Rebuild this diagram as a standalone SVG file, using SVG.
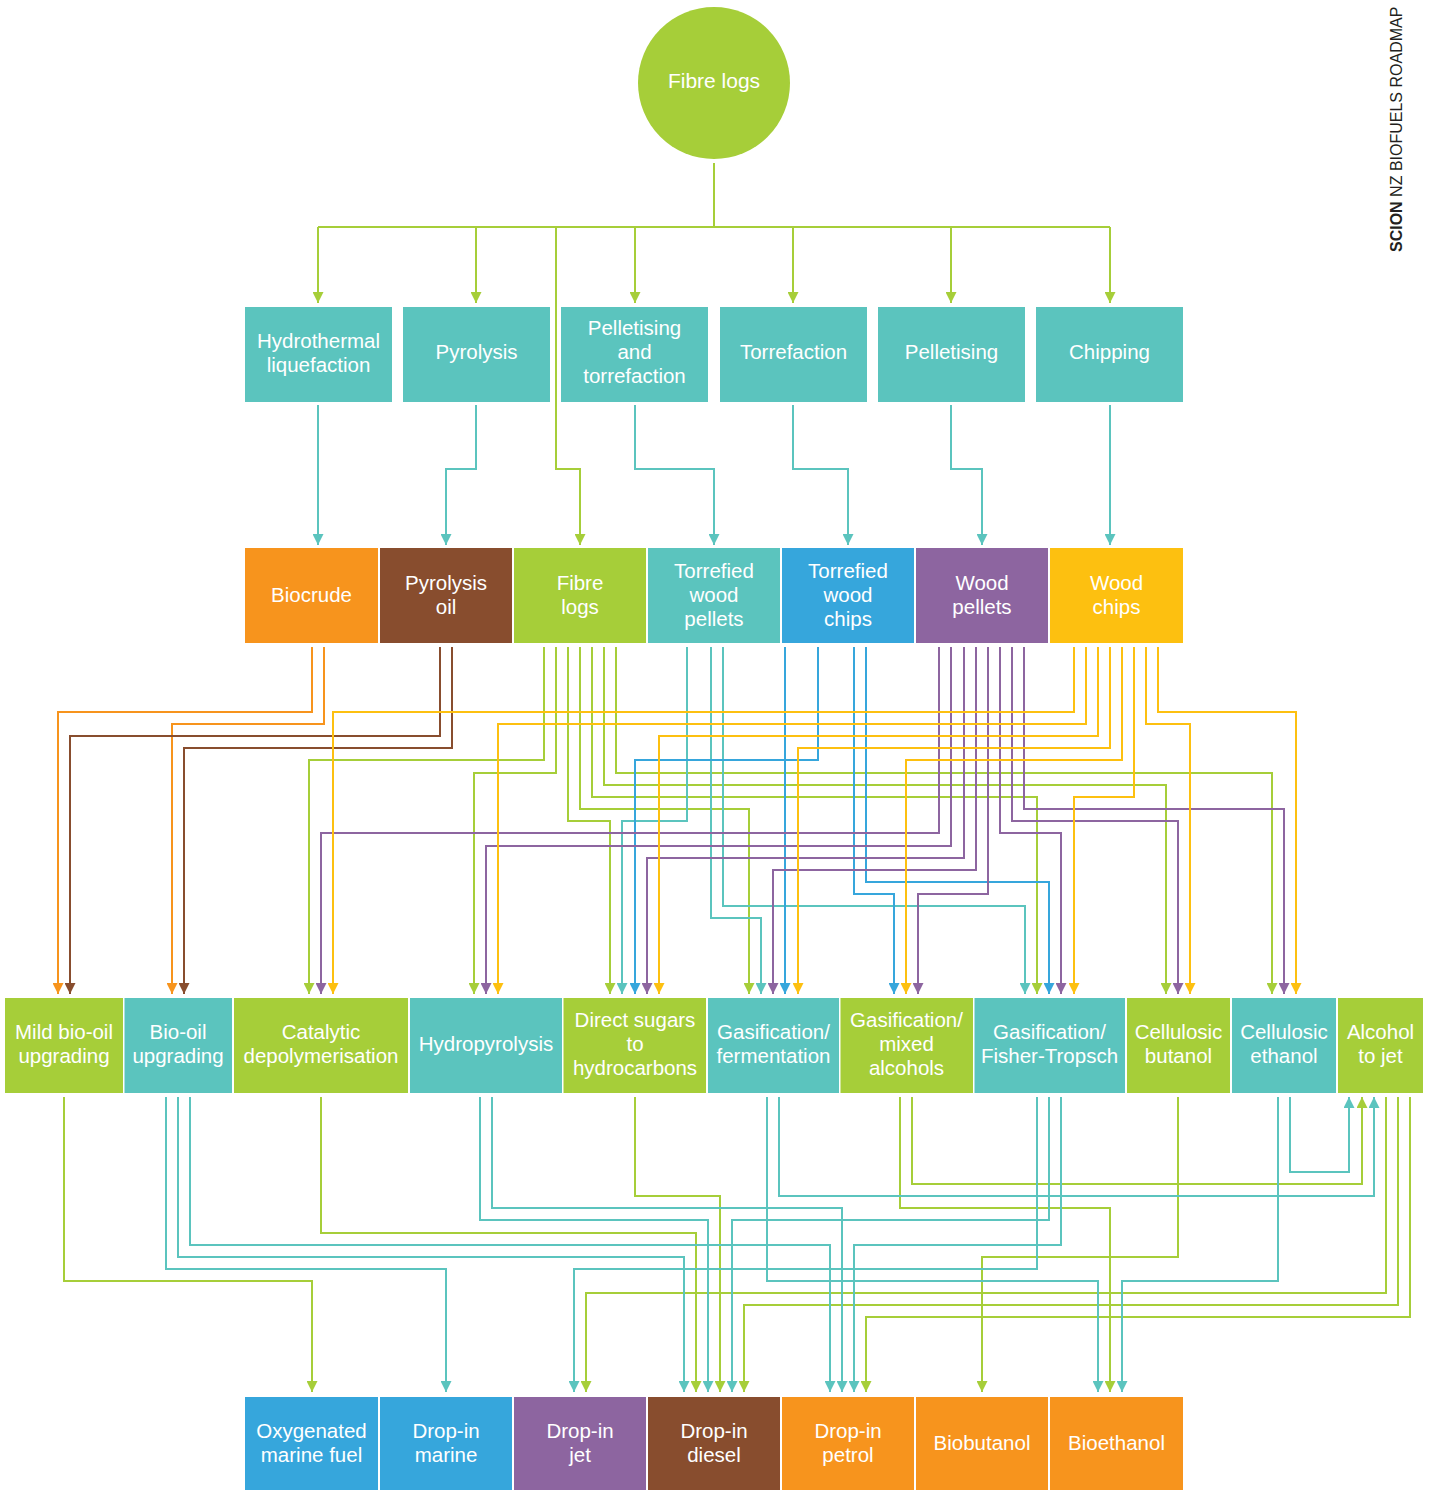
<svg xmlns="http://www.w3.org/2000/svg" width="1433" height="1490" viewBox="0 0 1433 1490">
<style>
.c{fill:none;stroke-width:2;stroke-linejoin:miter}
.g{stroke:#a6ce39}.tl{stroke:#5bc4be}.o{stroke:#f7941d}.br{stroke:#884d2e}.b{stroke:#36a6dc}.p{stroke:#8d65a0}.y{stroke:#fdc010}
.t{font-family:"Liberation Sans",Arial,Helvetica,sans-serif;font-size:20.5px;fill:#ffffff;text-anchor:middle}
.fG{fill:#a6ce39}.fT{fill:#5bc4be}.fO{fill:#f7941d}.fBr{fill:#884d2e}.fB{fill:#36a6dc}.fP{fill:#8d65a0}.fY{fill:#fdc010}
</style>
<defs>
<marker id="aG" markerUnits="userSpaceOnUse" markerWidth="11" markerHeight="11" refX="11" refY="5.5" orient="auto"><path d="M0,0 L11,5.5 L0,11 z" fill="#a6ce39"/></marker>
<marker id="aT" markerUnits="userSpaceOnUse" markerWidth="11" markerHeight="11" refX="11" refY="5.5" orient="auto"><path d="M0,0 L11,5.5 L0,11 z" fill="#5bc4be"/></marker>
<marker id="aO" markerUnits="userSpaceOnUse" markerWidth="11" markerHeight="11" refX="11" refY="5.5" orient="auto"><path d="M0,0 L11,5.5 L0,11 z" fill="#f7941d"/></marker>
<marker id="aBr" markerUnits="userSpaceOnUse" markerWidth="11" markerHeight="11" refX="11" refY="5.5" orient="auto"><path d="M0,0 L11,5.5 L0,11 z" fill="#884d2e"/></marker>
<marker id="aB" markerUnits="userSpaceOnUse" markerWidth="11" markerHeight="11" refX="11" refY="5.5" orient="auto"><path d="M0,0 L11,5.5 L0,11 z" fill="#36a6dc"/></marker>
<marker id="aP" markerUnits="userSpaceOnUse" markerWidth="11" markerHeight="11" refX="11" refY="5.5" orient="auto"><path d="M0,0 L11,5.5 L0,11 z" fill="#8d65a0"/></marker>
<marker id="aY" markerUnits="userSpaceOnUse" markerWidth="11" markerHeight="11" refX="11" refY="5.5" orient="auto"><path d="M0,0 L11,5.5 L0,11 z" fill="#fdc010"/></marker>
</defs>
<rect width="1433" height="1490" fill="#ffffff"/>

<g id="connectors">
<path class="c g" d="M714,163 V227 M318,227 H1110"/>
<path class="c g" marker-end="url(#aG)" d="M318,227 V303"/>
<path class="c g" marker-end="url(#aG)" d="M476,227 V303"/>
<path class="c g" marker-end="url(#aG)" d="M635,227 V303"/>
<path class="c g" marker-end="url(#aG)" d="M793,227 V303"/>
<path class="c g" marker-end="url(#aG)" d="M951,227 V303"/>
<path class="c g" marker-end="url(#aG)" d="M1110,227 V303"/>
<path class="c g" marker-end="url(#aG)" d="M556,227 V469 H580 V545"/>
<path class="c tl" marker-end="url(#aT)" d="M318,405 V545"/>
<path class="c tl" marker-end="url(#aT)" d="M476,405 V469 H446 V545"/>
<path class="c tl" marker-end="url(#aT)" d="M635,405 V469 H714 V545"/>
<path class="c tl" marker-end="url(#aT)" d="M793,405 V469 H848 V545"/>
<path class="c tl" marker-end="url(#aT)" d="M951,405 V469 H982 V545"/>
<path class="c tl" marker-end="url(#aT)" d="M1110,405 V545"/>
<path class="c o" marker-end="url(#aO)" d="M312,647 V712 H58 V994"/>
<path class="c o" marker-end="url(#aO)" d="M324,647 V724 H172 V994"/>
<path class="c br" marker-end="url(#aBr)" d="M440,647 V736 H70 V994"/>
<path class="c br" marker-end="url(#aBr)" d="M452,647 V748 H184 V994"/>
<path class="c g" marker-end="url(#aG)" d="M544,647 V760 H309 V994"/>
<path class="c g" marker-end="url(#aG)" d="M556,647 V773 H474 V994"/>
<path class="c g" marker-end="url(#aG)" d="M568,647 V821 H610 V994"/>
<path class="c g" marker-end="url(#aG)" d="M580,647 V809 H749 V994"/>
<path class="c g" marker-end="url(#aG)" d="M592,647 V797 H1037 V994"/>
<path class="c g" marker-end="url(#aG)" d="M604,647 V785 H1166 V994"/>
<path class="c g" marker-end="url(#aG)" d="M616,647 V773 H1272 V994"/>
<path class="c tl" marker-end="url(#aT)" d="M687,647 V821 H622 V994"/>
<path class="c tl" marker-end="url(#aT)" d="M711,647 V918 H761 V994"/>
<path class="c tl" marker-end="url(#aT)" d="M723,647 V906 H1025 V994"/>
<path class="c b" marker-end="url(#aB)" d="M785,647 V994"/>
<path class="c b" marker-end="url(#aB)" d="M818,647 V760 H635 V994"/>
<path class="c b" marker-end="url(#aB)" d="M854,647 V894 H894 V994"/>
<path class="c b" marker-end="url(#aB)" d="M866,647 V882 H1049 V994"/>
<path class="c p" marker-end="url(#aP)" d="M939,647 V833 H321 V994"/>
<path class="c p" marker-end="url(#aP)" d="M951,647 V846 H486 V994"/>
<path class="c p" marker-end="url(#aP)" d="M964,647 V858 H647 V994"/>
<path class="c p" marker-end="url(#aP)" d="M976,647 V870 H773 V994"/>
<path class="c p" marker-end="url(#aP)" d="M988,647 V894 H918 V994"/>
<path class="c p" marker-end="url(#aP)" d="M1000,647 V833 H1061 V994"/>
<path class="c p" marker-end="url(#aP)" d="M1012,647 V821 H1178 V994"/>
<path class="c p" marker-end="url(#aP)" d="M1024,647 V809 H1284 V994"/>
<path class="c y" marker-end="url(#aY)" d="M1074,647 V712 H333 V994"/>
<path class="c y" marker-end="url(#aY)" d="M1086,647 V724 H498 V994"/>
<path class="c y" marker-end="url(#aY)" d="M1098,647 V736 H659 V994"/>
<path class="c y" marker-end="url(#aY)" d="M1110,647 V748 H798 V994"/>
<path class="c y" marker-end="url(#aY)" d="M1122,647 V760 H906 V994"/>
<path class="c y" marker-end="url(#aY)" d="M1134,647 V797 H1074 V994"/>
<path class="c y" marker-end="url(#aY)" d="M1146,647 V724 H1190 V994"/>
<path class="c y" marker-end="url(#aY)" d="M1158,647 V712 H1296 V994"/>
<path class="c g" marker-end="url(#aG)" d="M64,1097 V1281 H312 V1392"/>
<path class="c g" marker-end="url(#aG)" d="M321,1097 V1233 H696 V1392"/>
<path class="c g" marker-end="url(#aG)" d="M635,1097 V1196 H720 V1392"/>
<path class="c g" marker-end="url(#aG)" d="M900,1097 V1208 H1110 V1392"/>
<path class="c g" marker-end="url(#aG)" d="M912,1097 V1184 H1362 V1097"/>
<path class="c g" marker-end="url(#aG)" d="M1178,1097 V1257 H982 V1392"/>
<path class="c g" marker-end="url(#aG)" d="M1386,1097 V1293 H586 V1392"/>
<path class="c g" marker-end="url(#aG)" d="M1398,1097 V1305 H744 V1392"/>
<path class="c g" marker-end="url(#aG)" d="M1410,1097 V1317 H866 V1392"/>
<path class="c tl" marker-end="url(#aT)" d="M166,1097 V1269 H446 V1392"/>
<path class="c tl" marker-end="url(#aT)" d="M178,1097 V1257 H684 V1392"/>
<path class="c tl" marker-end="url(#aT)" d="M190,1097 V1245 H830 V1392"/>
<path class="c tl" marker-end="url(#aT)" d="M480,1097 V1220 H708 V1392"/>
<path class="c tl" marker-end="url(#aT)" d="M492,1097 V1208 H842 V1392"/>
<path class="c tl" marker-end="url(#aT)" d="M767,1097 V1281 H1098 V1392"/>
<path class="c tl" marker-end="url(#aT)" d="M779,1097 V1196 H1374 V1097"/>
<path class="c tl" marker-end="url(#aT)" d="M1037,1097 V1269 H574 V1392"/>
<path class="c tl" marker-end="url(#aT)" d="M1049,1097 V1220 H732 V1392"/>
<path class="c tl" marker-end="url(#aT)" d="M1061,1097 V1245 H854 V1392"/>
<path class="c tl" marker-end="url(#aT)" d="M1278,1097 V1281 H1122 V1392"/>
<path class="c tl" marker-end="url(#aT)" d="M1290,1097 V1172 H1349 V1097"/>
</g>

<g id="n-fibre-logs-source">
<circle cx="714" cy="83" r="76" class="fG"/>
<text class="t" x="714" y="88" style="font-size:21px">Fibre logs</text>
</g>

<g id="n-hydrothermal"><rect x="245" y="307" width="147" height="95" class="fT"/><text class="t" x="318.5" y="348">Hydrothermal<tspan x="318.5" dy="24">liquefaction</tspan></text></g>
<g id="n-pyrolysis"><rect x="403" y="307" width="147" height="95" class="fT"/><text class="t" x="476.5" y="359">Pyrolysis</text></g>
<g id="n-pell-torr"><rect x="561" y="307" width="147" height="95" class="fT"/><text class="t" x="634.5" y="335">Pelletising<tspan x="634.5" dy="24">and</tspan><tspan x="634.5" dy="24">torrefaction</tspan></text></g>
<g id="n-torrefaction"><rect x="720" y="307" width="147" height="95" class="fT"/><text class="t" x="793.5" y="359">Torrefaction</text></g>
<g id="n-pelletising"><rect x="878" y="307" width="147" height="95" class="fT"/><text class="t" x="951.5" y="359">Pelletising</text></g>
<g id="n-chipping"><rect x="1036" y="307" width="147" height="95" class="fT"/><text class="t" x="1109.5" y="359">Chipping</text></g>

<g id="n-biocrude"><rect x="245" y="548" width="133" height="95" class="fO"/><text class="t" x="311.5" y="602">Biocrude</text></g>
<g id="n-pyrolysis-oil"><rect x="380" y="548" width="132" height="95" class="fBr"/><text class="t" x="446" y="590">Pyrolysis<tspan x="446" dy="24">oil</tspan></text></g>
<g id="n-fibre-logs"><rect x="514" y="548" width="132" height="95" class="fG"/><text class="t" x="580" y="590">Fibre<tspan x="580" dy="24">logs</tspan></text></g>
<g id="n-torr-pellets"><rect x="648" y="548" width="132" height="95" class="fT"/><text class="t" x="714" y="578">Torrefied<tspan x="714" dy="24">wood</tspan><tspan x="714" dy="24">pellets</tspan></text></g>
<g id="n-torr-chips"><rect x="782" y="548" width="132" height="95" class="fB"/><text class="t" x="848" y="578">Torrefied<tspan x="848" dy="24">wood</tspan><tspan x="848" dy="24">chips</tspan></text></g>
<g id="n-wood-pellets"><rect x="916" y="548" width="132" height="95" class="fP"/><text class="t" x="982" y="590">Wood<tspan x="982" dy="24">pellets</tspan></text></g>
<g id="n-wood-chips"><rect x="1050" y="548" width="133" height="95" class="fY"/><text class="t" x="1116.5" y="590">Wood<tspan x="1116.5" dy="24">chips</tspan></text></g>

<g id="n-mild-bio-oil"><rect x="5" y="998" width="118" height="95" class="fG"/><text class="t" x="64" y="1039">Mild bio-oil<tspan x="64" dy="24">upgrading</tspan></text></g>
<g id="n-bio-oil"><rect x="124.5" y="998" width="107.5" height="95" class="fT"/><text class="t" x="178" y="1039">Bio-oil<tspan x="178" dy="24">upgrading</tspan></text></g>
<g id="n-catalytic"><rect x="234" y="998" width="174" height="95" class="fG"/><text class="t" x="321" y="1039">Catalytic<tspan x="321" dy="24">depolymerisation</tspan></text></g>
<g id="n-hydropyrolysis"><rect x="410" y="998" width="152" height="95" class="fT"/><text class="t" x="486" y="1051">Hydropyrolysis</text></g>
<g id="n-direct-sugars"><rect x="563.5" y="998" width="142.5" height="95" class="fG"/><text class="t" x="635" y="1027">Direct sugars<tspan x="635" dy="24">to</tspan><tspan x="635" dy="24">hydrocarbons</tspan></text></g>
<g id="n-gas-ferm"><rect x="708" y="998" width="131" height="95" class="fT"/><text class="t" x="773.5" y="1039">Gasification/<tspan x="773.5" dy="24">fermentation</tspan></text></g>
<g id="n-gas-mixed"><rect x="840.5" y="998" width="132.5" height="95" class="fG"/><text class="t" x="906.5" y="1027">Gasification/<tspan x="906.5" dy="24">mixed</tspan><tspan x="906.5" dy="24">alcohols</tspan></text></g>
<g id="n-gas-ft"><rect x="974.5" y="998" width="150.5" height="95" class="fT"/><text class="t" x="1049.5" y="1039">Gasification/<tspan x="1049.5" dy="24">Fisher-Tropsch</tspan></text></g>
<g id="n-cell-butanol"><rect x="1127" y="998" width="103" height="95" class="fG"/><text class="t" x="1178.5" y="1039">Cellulosic<tspan x="1178.5" dy="24">butanol</tspan></text></g>
<g id="n-cell-ethanol"><rect x="1232" y="998" width="104" height="95" class="fT"/><text class="t" x="1284" y="1039">Cellulosic<tspan x="1284" dy="24">ethanol</tspan></text></g>
<g id="n-alcohol-jet"><rect x="1338" y="998" width="85" height="95" class="fG"/><text class="t" x="1380.5" y="1039">Alcohol<tspan x="1380.5" dy="24">to jet</tspan></text></g>

<g id="n-oxy-marine"><rect x="245" y="1397" width="133" height="93" class="fB"/><text class="t" x="311.5" y="1438">Oxygenated<tspan x="311.5" dy="24">marine fuel</tspan></text></g>
<g id="n-dropin-marine"><rect x="380" y="1397" width="132" height="93" class="fB"/><text class="t" x="446" y="1438">Drop-in<tspan x="446" dy="24">marine</tspan></text></g>
<g id="n-dropin-jet"><rect x="514" y="1397" width="132" height="93" class="fP"/><text class="t" x="580" y="1438">Drop-in<tspan x="580" dy="24">jet</tspan></text></g>
<g id="n-dropin-diesel"><rect x="648" y="1397" width="132" height="93" class="fBr"/><text class="t" x="714" y="1438">Drop-in<tspan x="714" dy="24">diesel</tspan></text></g>
<g id="n-dropin-petrol"><rect x="782" y="1397" width="132" height="93" class="fO"/><text class="t" x="848" y="1438">Drop-in<tspan x="848" dy="24">petrol</tspan></text></g>
<g id="n-biobutanol"><rect x="916" y="1397" width="132" height="93" class="fO"/><text class="t" x="982" y="1450">Biobutanol</text></g>
<g id="n-bioethanol"><rect x="1050" y="1397" width="133" height="93" class="fO"/><text class="t" x="1116.5" y="1450">Bioethanol</text></g>

<text transform="translate(1402,252) rotate(-90)" style="font-family:'Liberation Sans',Arial,Helvetica,sans-serif;font-size:16px;fill:#231f20"><tspan font-weight="bold">SCION</tspan> NZ BIOFUELS ROADMAP</text>
</svg>
